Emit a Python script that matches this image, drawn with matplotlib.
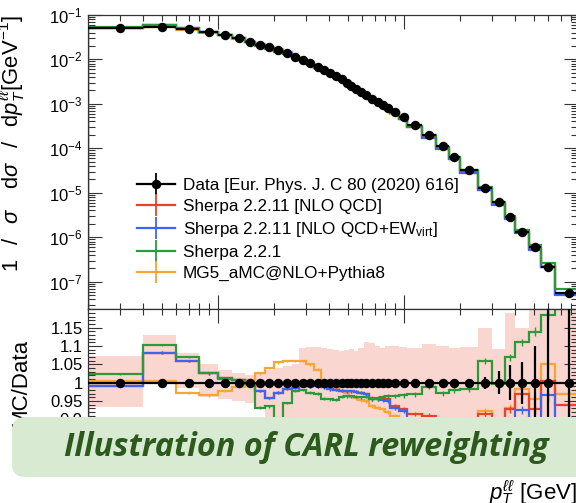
import numpy as np
import matplotlib
matplotlib.use("Agg")
import matplotlib.pyplot as plt
from matplotlib.patches import FancyBboxPatch
from matplotlib.lines import Line2D
from matplotlib.legend_handler import HandlerTuple
from matplotlib.ticker import FixedLocator, NullFormatter, LogLocator, FuncFormatter

plt.rcParams['font.family'] = ['Liberation Sans', 'DejaVu Sans']
plt.rcParams['mathtext.fontset'] = 'custom'
plt.rcParams['mathtext.rm'] = 'Liberation Sans'
plt.rcParams['mathtext.it'] = 'Liberation Sans:italic'
plt.rcParams['mathtext.bf'] = 'Liberation Sans:bold'

# ---------------- data ----------------
edges = [2, 4, 6, 8, 10, 12, 14, 16, 18, 20, 22.5, 25, 27.5, 30, 33, 36, 39, 42, 45, 48,
         51, 54, 57, 61, 65, 70, 75, 80, 85, 95, 105, 125, 150, 175, 200, 250, 300, 350,
         400, 470, 550, 650, 900]

data = [5.13e-2, 5.40e-2, 4.72e-2, 4.10e-2, 3.51e-2, 2.96e-2, 2.48e-2, 2.13e-2, 1.86e-2,
        1.59e-2, 1.41e-2, 1.14e-2, 9.64e-3, 8.12e-3, 6.59e-3, 5.74e-3, 4.83e-3, 4.20e-3,
        3.55e-3, 2.97e-3, 2.55e-3, 2.18e-3, 1.87e-3, 1.57e-3, 1.30e-3, 1.09e-3, 9.22e-4,
        7.89e-4, 6.62e-4, 4.95e-4, 3.33e-4, 1.98e-4, 1.12e-4, 6.45e-5, 3.24e-5, 1.29e-5,
        6.27e-6, 2.88e-6, 1.33e-6, 5.92e-7, 2.17e-7, 5.64e-8]

data_rel_err = [0.003, 0.003, 0.003, 0.003, 0.003, 0.003, 0.003, 0.003, 0.003, 0.003,
                0.003, 0.003, 0.003, 0.003, 0.003, 0.003, 0.003, 0.003, 0.003, 0.003,
                0.003, 0.003, 0.003, 0.003, 0.003, 0.003, 0.003, 0.003, 0.003, 0.004,
                0.004, 0.005, 0.006, 0.007, 0.008, 0.016, 0.031, 0.047, 0.057, 0.10,
                0.20, 0.40]

r_nlo = [0.991, 1.082, 1.058, 1.025, 1.012, 1.006, 1.000, 0.977, 0.958, 0.973, 0.982, 0.986,
         0.990, 0.990, 0.990, 0.988, 0.982, 0.980, 0.978, 0.977, 0.976, 0.975, 0.973, 0.968,
         0.958, 0.958, 0.957, 0.955, 0.936, 0.928, 0.915, 0.910, 0.900, 0.898, 0.900, 0.915,
         0.895, 0.927, 0.968, 0.927, 1.004, 0.938]

r_ew = [0.991, 1.082, 1.058, 1.025, 1.012, 1.006, 1.000, 0.977, 0.958, 0.973, 0.982, 0.986,
        0.990, 0.990, 0.990, 0.988, 0.982, 0.980, 0.978, 0.977, 0.976, 0.975, 0.973, 0.968,
        0.956, 0.955, 0.953, 0.950, 0.931, 0.922, 0.895, 0.880, 0.872, 0.868, 0.862, 0.878,
        0.860, 0.885, 0.925, 0.885, 0.965, 0.900]

r_221 = [1.023, 1.103, 1.069, 1.027, 1.010, 1.006, 0.995, 0.932, 0.935, 0.900, 0.945, 0.978,
         0.980, 0.972, 0.970, 0.956, 0.955, 0.954, 0.962, 0.963, 0.963, 0.962, 0.960, 0.962,
         0.955, 0.955, 0.962, 0.963, 0.963, 0.965, 0.968, 0.989, 0.971, 0.980, 0.982, 1.059,
         0.995, 1.069, 1.110, 1.139, 1.185, 1.200]

r_mg5 = [1.005, 1.005, 0.973, 0.965, 0.978, 0.988, 1.008, 1.025, 1.040, 1.055, 1.058, 1.060,
         1.058, 1.050, 1.035, 1.005, 0.995, 0.986, 0.978, 0.972, 0.962, 0.958, 0.952, 0.950,
         0.936, 0.932, 0.927, 0.920, 0.910, 0.900, 0.890, 0.880, 0.870, 0.868, 0.865, 0.922,
         0.890, 0.931, 0.984, 0.956, 1.050, 0.968]

mc_err = [0.003, 0.003, 0.003, 0.003, 0.003, 0.003, 0.003, 0.003, 0.003, 0.003, 0.003, 0.003,
          0.003, 0.004, 0.004, 0.004, 0.004, 0.004, 0.004, 0.004, 0.004, 0.004, 0.004, 0.005,
          0.005, 0.005, 0.005, 0.005, 0.005, 0.006, 0.006, 0.006, 0.007, 0.007, 0.007, 0.008,
          0.009, 0.010, 0.010, 0.012, 0.015, 0.015]

band_up = [1.073, 1.130, 1.080, 1.050, 1.035, 1.025, 1.020, 1.030, 1.035, 1.040, 1.045, 1.050,
           1.095, 1.096, 1.098, 1.095, 1.092, 1.090, 1.085, 1.088, 1.092, 1.085, 1.095, 1.110,
           1.108, 1.100, 1.095, 1.100, 1.100, 1.098, 1.095, 1.105, 1.100, 1.094, 1.097, 1.148,
           1.093, 1.190, 1.150, 1.220, 1.260, 1.260]

band_dn = [0.934, 1.000, 0.985, 0.960, 0.955, 0.950, 0.945, 0.930, 0.905, 0.890, 0.880, 0.880,
           0.870, 0.870, 0.865, 0.865, 0.860, 0.860, 0.860, 0.860, 0.860, 0.860, 0.860, 0.860,
           0.860, 0.860, 0.860, 0.860, 0.860, 0.860, 0.860, 0.860, 0.860, 0.860, 0.860, 0.860,
           0.850, 0.850, 0.840, 0.830, 0.820, 0.820]

labels = ["Data [Eur. Phys. J. C 80 (2020) 616]",
          "Sherpa 2.2.11 [NLO QCD]",
          "Sherpa 2.2.11 [NLO QCD+EW$_{\\mathrm{virt}}$]",
          "Sherpa 2.2.1",
          "MG5_aMC@NLO+Pythia8"]
colors = ['#ee4027', '#3d64f2', '#2a9b3a', '#f7a534']

# ---------------- figure ----------------
W, H = 576, 503
fig = plt.figure(figsize=(W / 100, H / 100), dpi=100)

x_lo, x_hi = 2, 870
px_left, px_right = 87.5, 87.5 + 186 * np.log10(x_hi / x_lo)
main_top, main_bot, rat_bot = 14.8, 309.3, 456.0
aw = px_right - px_left

def fx(px):
    return px / W

def fy(py):
    return 1 - py / H

ax = fig.add_axes([fx(px_left), fy(main_bot), fx(aw), (main_bot - main_top) / H])
axr = fig.add_axes([fx(px_left), fy(rat_bot), fx(aw), (rat_bot - main_bot) / H], sharex=ax)

e = np.array(edges, dtype=float)
cent = 0.5 * (e[:-1] + e[1:])
xlo = cent - e[:-1]
xhi = e[1:] - cent
d = np.array(data)
derr = np.array(data_rel_err)
ratios = [np.array(r_nlo), np.array(r_ew), np.array(r_221), np.array(r_mg5)]
merr = np.array(mc_err)
draw_order = [3, 0, 1, 2]  # orange, red, blue, green (green on top)

# main panel
for i in draw_order:
    ax.stairs(d * ratios[i], e, color=colors[i], lw=1.6, zorder=2)
ax.errorbar(cent, d, xerr=[xlo, xhi], fmt='o', color='black', ms=5.8,
            elinewidth=1.6, capsize=0, zorder=5)

ax.set_xscale('log')
ax.set_yscale('log')
ax.set_xlim(x_lo, x_hi)
ax.set_ylim(2.4e-8, 0.1)
ax.yaxis.set_major_locator(LogLocator(base=10, numticks=20))
ax.yaxis.set_minor_locator(LogLocator(base=10, subs=np.arange(2, 10), numticks=20))
ax.yaxis.set_minor_formatter(NullFormatter())
ax.tick_params(axis='x', labelbottom=False)

# legend
handles = [(Line2D([], [], color='black', lw=1.6, marker='|', ms=16, mew=1.3),
            Line2D([], [], color='black', lw=0, marker='o', ms=5.8))]
for c in colors:
    handles.append(Line2D([], [], color=c, lw=1.6, marker='|', ms=16, mew=1.3))
leg = ax.legend(handles, labels, loc='upper left',
                bbox_to_anchor=((137 - px_left) / aw, 1 - (178 - main_top) / (main_bot - main_top)),
                frameon=False, fontsize=12.3, handlelength=2.2, handletextpad=0.5,
                labelspacing=0.35, borderpad=0, borderaxespad=0,
                handler_map={tuple: HandlerTuple(ndivide=1)})

ax.set_ylabel(r'$1\quad\!/\quad\!\sigma\quad\,\mathrm{d}\sigma\quad\!/\quad\!\mathrm{d}p_T^{\ell\ell}$[GeV$^{-1}$]',
              fontsize=15.8, loc='top')
ax.yaxis.set_label_coords((27 - px_left) / aw, 1.0)

# ratio panel
ext = lambda a: np.append(a, a[-1])
axr.fill_between(e, ext(np.array(band_dn)), ext(np.array(band_up)), step='post',
                 color='#f9d6cf', lw=0, zorder=1)
for i in draw_order:
    axr.stairs(ratios[i], e, color=colors[i], lw=1.6, zorder=2)
    axr.errorbar(cent, ratios[i], yerr=merr, fmt='none', ecolor=colors[i], elinewidth=1.0, zorder=2)
axr.errorbar(cent, np.ones_like(cent), xerr=[xlo, xhi], yerr=derr, fmt='o', color='black',
             ms=5.8, elinewidth=1.6, capsize=0, zorder=5)
axr.set_ylim(0.8, 1.2)
axr.yaxis.set_major_locator(FixedLocator([0.85, 0.9, 0.95, 1.0, 1.05, 1.1, 1.15]))
axr.yaxis.set_minor_locator(FixedLocator(np.round(np.arange(0.80, 1.201, 0.01), 3)))
axr.yaxis.set_major_formatter(FuncFormatter(lambda v, p: '%g' % round(v, 3)))
axr.xaxis.set_minor_formatter(NullFormatter())
axr.set_ylabel('MC/Data', fontsize=16)
axr.yaxis.set_label_coords((31 - px_left) / aw, 0.5)
axr.set_xlabel(r'$p_T^{\ell\ell}$ [GeV]', fontsize=16, loc='right')
axr.xaxis.set_label_coords((577 - px_left) / aw, -(493 - rat_bot) / (rat_bot - main_bot))
axr.xaxis.label.set_va('center')

for a in (ax, axr):
    a.tick_params(which='both', direction='in', top=True, right=True, labelsize=12,
                  width=0.8, color='#333333')
    a.tick_params(which='major', length=10)
    a.tick_params(which='minor', length=5)
    a.tick_params(axis='x', which='minor', length=4.5)
    for s in a.spines.values():
        s.set_linewidth(0.9)
        s.set_color('#333333')

# overlay banner
ov = fig.add_axes([0, 0, 1, 1], zorder=10)
ov.set_xlim(0, W)
ov.set_ylim(H, 0)
ov.axis('off')
ov.add_patch(FancyBboxPatch((12, 417), 600, 60, boxstyle='round,pad=0,rounding_size=13',
                            facecolor='#d9ead3', edgecolor='none'))
ov.text(306, 447, 'Illustration of CARL reweighting', ha='center', va='center',
        fontsize=23.3, fontweight='bold', fontstyle='italic', family='Open Sans', color='#2b5a1c')

fig.savefig('out.png', dpi=100)
